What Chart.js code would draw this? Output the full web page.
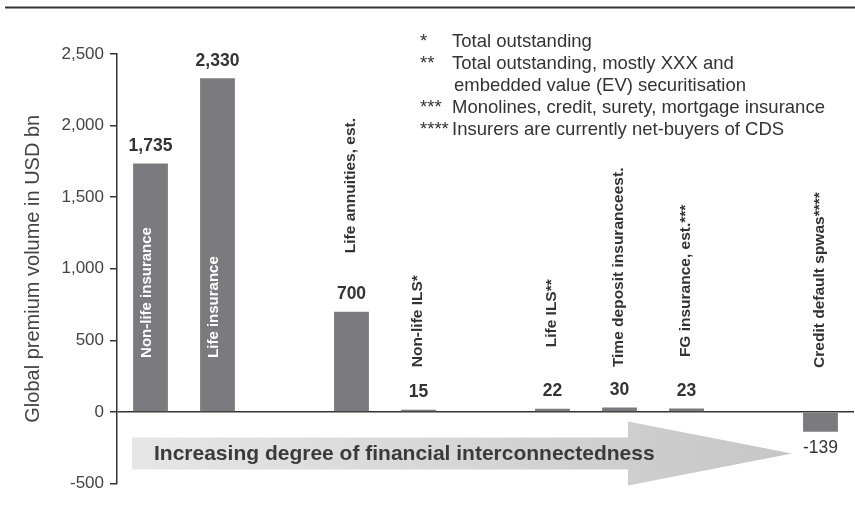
<!DOCTYPE html>
<html>
<head>
<meta charset="utf-8">
<script src="https://cdn.jsdelivr.net/npm/chart.js@4.4.0/dist/chart.umd.min.js"></script>
<style>
  html, body { margin: 0; padding: 0; background: #fff; }
  #wrap { width: 855px; height: 507px; position: relative; }
</style>
</head>
<body>
<div id="wrap"><canvas id="chart"></canvas></div>
<script>
// data
const categories = ["Non-life insurance", "Life insurance", "", "Life annuities, est.", "Non-life ILS*", "",
  "Life ILS**", "Time deposit insuranceest.", "FG insurance, est.***", "", "Credit default spwas****"];
const premiumVolume = [1735, 2330, null, 700, 15, null, 22, 30, 23, null, -139];
const yTicks = [-500, 0, 500, 1000, 1500, 2000, 2500];
const noteMarks = ["*", "**", "", "***", "****"];
const noteTexts = ["Total outstanding", "Total outstanding, mostly XXX and", "embedded value (EV) securitisation",
  "Monolines, credit, surety, mortgage insurance", "Insurers are currently net-buyers of CDS"];
const arrowText = "Increasing degree of financial interconnectedness";

// layout only: gap (px) between value label and rotated category label, null = label inside bar
const labelGap = [null, null, null, 41, 25, null, 44, 23, 34, null, 44];

const FONT = '"Liberation Sans", Arial, Helvetica, sans-serif';
Chart.defaults.font.family = FONT;

const decor = {
  id: "decor",
  beforeDatasetsDraw(chart) {
    const { ctx, chartArea: a } = chart;
    const x0 = a.left + 15, x1 = a.left + 511, tip = a.left + 675;
    const yc = 453.5, hb = 16, hh = 32;
    const g = ctx.createLinearGradient(x0, 0, tip, 0);
    g.addColorStop(0, "#e6e6e6");
    g.addColorStop(1, "#c6c6c6");
    ctx.save();
    ctx.fillStyle = g;
    ctx.beginPath();
    ctx.moveTo(x0, yc - hb);
    ctx.lineTo(x1, yc - hb);
    ctx.lineTo(x1, yc - hh);
    ctx.lineTo(tip, yc);
    ctx.lineTo(x1, yc + hh);
    ctx.lineTo(x1, yc + hb);
    ctx.lineTo(x0, yc + hb);
    ctx.closePath();
    ctx.fill();
    ctx.fillStyle = "#3a3a3a";
    ctx.font = "bold 21px " + FONT;
    ctx.textBaseline = "middle";
    ctx.textAlign = "left";
    ctx.fillText(arrowText, x0 + 22, yc + 1);
    ctx.restore();
  },
  afterDraw(chart) {
    const { ctx } = chart;
    const xs = chart.scales.x, ys = chart.scales.y;
    ctx.save();
    // rule on top
    ctx.strokeStyle = "#333";
    ctx.lineWidth = 2;
    ctx.beginPath();
    ctx.moveTo(5, 7.5);
    ctx.lineTo(855, 7.5);
    ctx.stroke();

    // footnotes
    ctx.fillStyle = "#333";
    ctx.font = "18.5px " + FONT;
    ctx.textBaseline = "middle";
    noteTexts.forEach((t, i) => {
      const y = 42 + i * 22;
      ctx.textAlign = "left";
      ctx.fillText(noteMarks[i], 420, y);
      ctx.fillText(t, i === 2 ? 454 : 452, y);
    });

    const zero = ys.getPixelForValue(0);
    premiumVolume.forEach((v, i) => {
      if (v === null) return;
      const x = xs.getPixelForValue(i);
      const top = ys.getPixelForValue(v);
      let anchor;
      ctx.textAlign = "center";
      ctx.textBaseline = "middle";
      ctx.fillStyle = "#333";
      if (v >= 0) {
        ctx.font = "bold 17.5px " + FONT;
        anchor = top - 17.5;
        ctx.fillText(v.toLocaleString("en-US"), x, anchor);
      } else {
        ctx.font = "17.5px " + FONT;
        ctx.fillText(v.toLocaleString("en-US"), x, top + 16.5);
        anchor = zero;
      }
      // rotated category label
      ctx.save();
      if (labelGap[i] === null) {
        ctx.translate(x - 4, zero - 54);
        ctx.rotate(-Math.PI / 2);
        ctx.fillStyle = "#fff";
        ctx.font = "bold 15px " + FONT;
      } else {
        ctx.translate(x - 1, anchor - labelGap[i]);
        ctx.rotate(-Math.PI / 2);
        ctx.fillStyle = "#333";
        ctx.font = "bold 15.5px " + FONT;
      }
      ctx.textAlign = "left";
      ctx.textBaseline = "middle";
      ctx.fillText(categories[i], 0, 0);
      ctx.restore();
    });
    ctx.restore();
  }
};

new Chart(document.getElementById("chart"), {
  type: "bar",
  data: {
    labels: categories,
    datasets: [{
      label: "Global premium volume",
      data: premiumVolume,
      backgroundColor: "#7b7b7f",
      borderWidth: 0,
      categoryPercentage: 1,
      barPercentage: 0.52
    }]
  },
  options: {
    responsive: true,
    maintainAspectRatio: false,
    animation: false,
    layout: { padding: { top: 54, right: 1, bottom: 23.5, left: 0 } },
    plugins: { legend: { display: false }, tooltip: { enabled: false } },
    scales: {
      x: { display: false },
      y: {
        min: -500,
        max: 2500,
        afterBuildTicks: s => { s.ticks = yTicks.map(v => ({ value: v })); },
        afterFit: s => { s.width = 117; },
        ticks: {
          color: "#444",
          font: { size: 17 },
          padding: 6,
          callback: v => v.toLocaleString("en-US")
        },
        grid: {
          color: c => (c.tick && c.tick.value === 0 ? "#333" : "transparent"),
          lineWidth: 1.5,
          tickColor: "#333",
          tickLength: 7
        },
        border: { display: true, color: "#333", width: 1.5 },
        title: {
          display: true,
          text: "Global premium volume in USD bn",
          color: "#444",
          font: { size: 20 },
          padding: { top: 21, bottom: 0 }
        }
      }
    }
  },
  plugins: [decor]
});
</script>
</body>
</html>
